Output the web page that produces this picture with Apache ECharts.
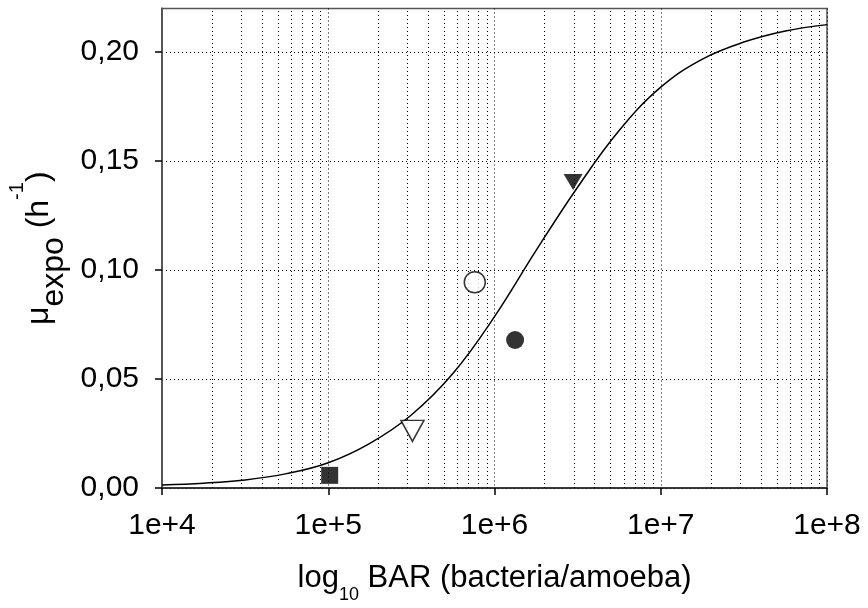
<!DOCTYPE html>
<html><head><meta charset="utf-8">
<script src="https://cdn.jsdelivr.net/npm/echarts@6/dist/echarts.min.js"></script>
<style>html,body{margin:0;padding:0;background:#fff}#c{width:868px;height:608px}</style>
</head><body><div id="c"></div>
<script>
// fitted curve at quarter-decade steps
const curveX = [1e4, 1.78e4, 3.16e4, 5.62e4, 1e5, 1.78e5, 3.16e5, 5.62e5, 1e6, 1.78e6, 3.16e6, 5.62e6, 1e7, 1.78e7, 3.16e7, 5.62e7, 1e8];
const curveY = [0.0014, 0.0022, 0.0037, 0.0066, 0.0116, 0.0205, 0.0335, 0.0525, 0.0786, 0.1090, 0.1380, 0.1640, 0.1839, 0.1968, 0.2046, 0.2097, 0.2126];
// measured points
const filledSquare = [[1.02e5, 0.0058]];
const openTriangle = [[3.21e5, 0.0262]];
const openCircle = [[7.61e5, 0.0944]];
const filledCircle = [[1.33e6, 0.0679]];
const filledTriangle = [[2.97e6, 0.1404]];
// axis values
const yTicks = [0, 0.05, 0.10, 0.15, 0.20];
const minorGridX = [2e4,3e4,4e4,5e4,6e4,7e4,8e4,9e4, 2e5,3e5,4e5,5e5,6e5,7e5,8e5,9e5, 2e6,3e6,4e6,5e6,6e6,7e6,8e6,9e6, 2e7,3e7,4e7,5e7,6e7,7e7,8e7,9e7];

const FONT = '"Liberation Sans", Arial, Helvetica, sans-serif';
const FS = 30;
const chart = echarts.init(document.getElementById('c'), null, {renderer: 'canvas'});
const dotted = {color: '#000', width: 1, type: [1, 3]};
chart.setOption({
  animation: false,
  backgroundColor: '#fff',
  grid: {left: 162, right: 41, top: 8.5, bottom: 120, show: true, borderColor: '#555', borderWidth: 1.5,
    containLabel: false, outerBoundsMode: 'none'},
  xAxis: {
    type: 'log', logBase: 10, min: 1e4, max: 1e8,
    axisLine: {show: true, lineStyle: {color: '#222', width: 1.5}},
    axisTick: {show: true, length: 7, lineStyle: {color: '#000', width: 1.5}},
    axisLabel: {margin: 23, fontSize: FS, color: '#000', fontFamily: FONT,
      formatter: v => '1e+' + Math.round(Math.log10(v))},
    splitLine: {show: true, lineStyle: dotted},
    name: 'log{sub|10} BAR (bacteria/amoeba)',
    nameLocation: 'middle', nameGap: 64, nameMoveOverlap: false,
    nameTextStyle: {fontSize: 31, color: '#000', fontFamily: FONT, lineHeight: 52,
      rich: {sub: {fontSize: 18, lineHeight: 18, verticalAlign: 'bottom', color: '#000', fontFamily: FONT}}}
  },
  yAxis: {
    type: 'value', min: 0, max: 0.22, interval: 0.05,
    axisLine: {show: true, lineStyle: {color: '#555', width: 2}},
    axisTick: {show: true, length: 7, lineStyle: {color: '#000', width: 1.5}, customValues: yTicks},
    axisLabel: {margin: 23, fontSize: FS, color: '#000', fontFamily: FONT, customValues: yTicks,
      formatter: v => v.toFixed(2).replace('.', ',')},
    splitLine: {show: true, lineStyle: dotted},
    name: '{n|μ}{sub|expo}{n| (h}{sup|-1}{n|)}',
    nameLocation: 'middle', nameRotate: 90, nameGap: 88,
    nameTextStyle: {fontSize: 32, color: '#000', fontFamily: FONT,
      rich: {
        n: {fontSize: 32, lineHeight: 62, color: '#000', fontFamily: FONT},
        sub: {fontSize: 32, lineHeight: 54, verticalAlign: 'bottom', color: '#000', fontFamily: FONT},
        sup: {fontSize: 20, lineHeight: 20, verticalAlign: 'top', color: '#000', fontFamily: FONT}
      }}
  },
  series: [
    {type: 'line', data: [], z: 1, silent: true,
      markLine: {silent: true, symbol: 'none', label: {show: false}, lineStyle: dotted,
        data: minorGridX.map(v => ({xAxis: v}))}},
    {type: 'line', data: curveX.map((x, i) => [x, curveY[i]]), smooth: 0.4, showSymbol: false, z: 3,
      lineStyle: {color: '#000', width: 1.5}},
    {type: 'scatter', data: filledSquare, symbol: 'rect', symbolSize: 17, z: 5,
      itemStyle: {color: '#000'}},
    {type: 'scatter', data: openTriangle, symbol: 'triangle', symbolRotate: 180, symbolSize: [23, 21], z: 5,
      itemStyle: {color: '#fff', borderColor: '#000', borderWidth: 1.5}},
    {type: 'scatter', data: openCircle, symbol: 'circle', symbolSize: 21, z: 5,
      itemStyle: {color: '#fff', borderColor: '#000', borderWidth: 1.5}},
    {type: 'scatter', data: filledCircle, symbol: 'circle', symbolSize: 18, z: 5,
      itemStyle: {color: '#000'}},
    {type: 'scatter', data: filledTriangle, symbol: 'triangle', symbolRotate: 180, symbolSize: [19, 16], z: 5,
      itemStyle: {color: '#000'}}
  ]
});
</script></body></html>
